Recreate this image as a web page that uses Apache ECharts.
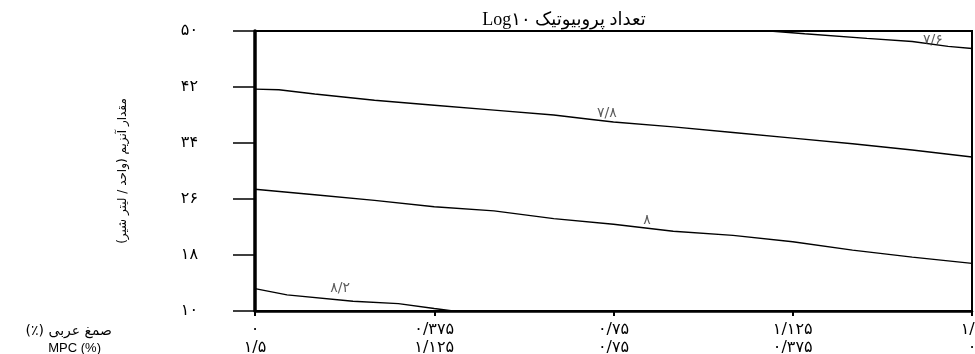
<!DOCTYPE html>
<html>
<head>
<meta charset="utf-8">
<script src="https://cdn.jsdelivr.net/npm/echarts@6/dist/echarts.min.js"></script>
<style>
  html, body { margin: 0; padding: 0; background: #fff; }
  #chart { width: 975px; height: 354px; }
</style>
</head>
<body>
<div id="chart"></div>
<script>
// Axis tick positions and their Persian labels
const xTickValues = [0, 0.375, 0.75, 1.125, 1.5];
const gumTicks = ['۰', '۰/۳۷۵', '۰/۷۵', '۱/۱۲۵', '۱/۵'];
const mpcTicks = ['۱/۵', '۱/۱۲۵', '۰/۷۵', '۰/۳۷۵', '۰'];
const yTickValues = [10, 18, 26, 34, 42, 50];
const yTickLabels = ['۱۰', '۱۸', '۲۶', '۳۴', '۴۲', '۵۰'];

// Contour levels of probiotic count (Log10)
const levels = [7.6, 7.8, 8, 8.2];

// Contour paths: gum arabic (%) -> enzyme amount
const x76 = [1.077, 1.15, 1.28, 1.375, 1.45, 1.5];
const enzyme76 = [50, 49.6, 48.95, 48.5, 47.8, 47.5];

const x78 = [0, 0.05, 0.125, 0.25, 0.375, 0.5, 0.625, 0.7, 0.75, 0.875, 1, 1.125, 1.25, 1.375, 1.5];
const enzyme78 = [41.7, 41.6, 41.0, 40.1, 39.4, 38.7, 38.0, 37.4, 37.0, 36.3, 35.5, 34.7, 33.9, 33.0, 32.0];

const x80 = [0, 0.125, 0.25, 0.375, 0.5, 0.625, 0.75, 0.875, 1, 1.125, 1.25, 1.375, 1.5];
const enzyme80 = [27.4, 26.6, 25.8, 24.9, 24.3, 23.2, 22.4, 21.4, 20.8, 19.9, 18.7, 17.7, 16.8];

const x82 = [0, 0.067, 0.205, 0.3, 0.375, 0.414];
const enzyme82 = [13.2, 12.3, 11.4, 11.05, 10.35, 10];

// Where each level's label sits
const labelX = [1.418, 0.736, 0.82, 0.178];
const labelY = [48.7, 38.3, 23.0, 13.3];

const paths = [[x76, enzyme76], [x78, enzyme78], [x80, enzyme80], [x82, enzyme82]];

const PERSIAN = '۰۱۲۳۴۵۶۷۸۹';
function toPersian(v) {
  return String(v).replace('.', '/').replace(/\d/g, d => PERSIAN[d]);
}
function zip(xs, ys) { return xs.map((x, i) => [x, ys[i]]); }

const RLE = '\u202B', PDF = '\u202C';
const arabicFont = "'DejaVu Sans', 'Noto Sans', sans-serif";

const lineSeries = paths.map((p, i) => ({
  type: 'line',
  name: String(levels[i]),
  data: zip(p[0], p[1]),
  symbol: 'none',
  smooth: false,
  lineStyle: { color: '#000', width: 1.4 },
  silent: true,
  z: 3
}));

const labelSeries = {
  type: 'scatter',
  data: levels.map((lv, i) => [labelX[i], labelY[i], lv]),
  symbolSize: 0,
  silent: true,
  label: {
    show: true,
    position: 'inside',
    formatter: p => toPersian(p.value[2]),
    fontFamily: arabicFont,
    fontSize: 14,
    color: '#333'
  },
  z: 4
};

const chart = echarts.init(document.getElementById('chart'), null, { renderer: 'canvas' });
chart.setOption({
  animation: false,
  backgroundColor: '#fff',
  grid: {
    left: 255, right: 3, top: 31, bottom: 43,
    containLabel: false,
    outerBoundsMode: 'none',
    show: true, borderColor: '#000', borderWidth: 2
  },
  xAxis: {
    type: 'value',
    min: 0, max: 1.5, interval: 0.375,
    axisLine: { show: true, lineStyle: { color: '#000', width: 2.5 } },
    axisTick: { show: true, inside: false, length: 5, lineStyle: { color: '#000', width: 2 } },
    splitLine: { show: false },
    axisLabel: {
      margin: 10,
      fontFamily: arabicFont,
      fontSize: 16,
      lineHeight: 18,
      color: '#000',
      showMaxLabel: true,
      showMinLabel: true,
      hideOverlap: false,
      formatter: v => {
        const i = xTickValues.findIndex(t => Math.abs(t - v) < 1e-6);
        return i < 0 ? '' : gumTicks[i] + '\n' + mpcTicks[i];
      }
    }
  },
  yAxis: {
    type: 'value',
    min: 10, max: 50,
    name: RLE + 'مقدار آنزیم (واحد / لیتر شیر)' + PDF,
    nameLocation: 'middle',
    nameGap: 126,
    nameRotate: 90,
    nameTextStyle: { fontFamily: arabicFont, fontSize: 12, color: '#000' },
    axisLine: { show: true, lineStyle: { color: '#000', width: 3.5 } },
    axisTick: { show: true, inside: false, length: 22, customValues: yTickValues, lineStyle: { color: '#000', width: 1.5 } },
    splitLine: { show: false },
    axisLabel: {
      margin: 57,
      fontFamily: arabicFont,
      fontSize: 16,
      color: '#000',
      customValues: yTickValues,
      formatter: v => {
        const i = yTickValues.indexOf(v);
        return i < 0 ? '' : yTickLabels[i];
      }
    }
  },
  graphic: [
    {
      type: 'text', x: 564, y: 20,
      style: {
        text: RLE + 'تعداد پروبیوتیک Log۱۰' + PDF,
        align: 'center', verticalAlign: 'middle',
        font: "18px 'Liberation Serif', 'DejaVu Sans', serif",
        fill: '#000'
      }
    },
    {
      type: 'text', x: 112, y: 331,
      style: {
        text: RLE + 'صمغ عربی (٪)' + PDF,
        align: 'right', verticalAlign: 'middle',
        font: "14px 'DejaVu Sans', sans-serif",
        fill: '#000'
      }
    },
    {
      type: 'text', x: 101, y: 348,
      style: {
        text: 'MPC (%)',
        align: 'right', verticalAlign: 'middle',
        font: "13px 'Liberation Sans', Arial, sans-serif",
        fill: '#000'
      }
    }
  ],
  series: lineSeries.concat([labelSeries])
});
</script>
</body>
</html>
